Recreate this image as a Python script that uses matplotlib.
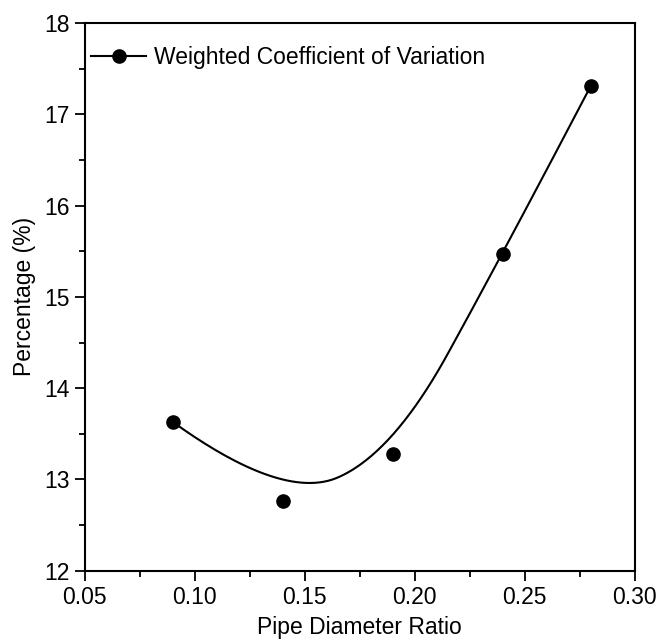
import matplotlib
matplotlib.use("Agg")
import matplotlib.pyplot as plt
import numpy as np
from matplotlib.ticker import MultipleLocator

plt.rcParams['font.family'] = ['Liberation Sans', 'DejaVu Sans']

# data
ratio = [0.09, 0.14, 0.19, 0.24, 0.28]
cv = [13.63, 12.76, 13.28, 15.47, 17.31]
series_name = "Weighted Coefficient of Variation"


# quadratic B-spline through the points as control points (Origin style)
def bspline2(px, py, n=60):
    px = np.asarray(px, float)
    py = np.asarray(py, float)
    # knots at midpoints, ends clamped
    mx = np.r_[px[0], (px[1:-2] + px[2:-1]) / 2, px[-1]]
    my = np.r_[py[0], (py[1:-2] + py[2:-1]) / 2, py[-1]]
    t = np.linspace(0, 1, n)
    xs, ys = [], []
    for i in range(len(mx) - 1):
        cx, cy = px[i + 1], py[i + 1]
        xs.append((1 - t) ** 2 * mx[i] + 2 * t * (1 - t) * cx + t ** 2 * mx[i + 1])
        ys.append((1 - t) ** 2 * my[i] + 2 * t * (1 - t) * cy + t ** 2 * my[i + 1])
    return np.concatenate(xs), np.concatenate(ys)


xs, ys = bspline2(ratio, cv)

fig = plt.figure(figsize=(6.57, 6.44), dpi=100)
ax = fig.add_axes([0.129, 0.114, 0.837, 0.850])

ax.plot(xs, ys, color="black", lw=1.5)
ax.plot(ratio, cv, "o", color="black", ms=9.5)
# legend proxy: line with dot
ax.plot([], [], "-o", color="black", lw=1.5, ms=9.5, label=series_name)

ax.set_xlim(0.05, 0.30)
ax.set_ylim(12, 18)
ax.xaxis.set_major_locator(MultipleLocator(0.05))
ax.xaxis.set_minor_locator(MultipleLocator(0.025))
ax.yaxis.set_major_locator(MultipleLocator(1))
ax.yaxis.set_minor_locator(MultipleLocator(0.5))
ax.xaxis.set_major_formatter(plt.FormatStrFormatter("%.2f"))
ax.tick_params(which="both", direction="out", top=False, right=False, width=1.3)
ax.tick_params(which="major", length=7, labelsize=16.5, pad=4)
ax.tick_params(which="minor", length=4)
for s in ax.spines.values():
    s.set_linewidth(1.5)

ax.set_xlabel("Pipe Diameter Ratio", fontsize=16.5, labelpad=5)
ax.set_ylabel("Percentage (%)", fontsize=16.5, labelpad=6)

ax.legend(loc="center left", bbox_to_anchor=(0.012, 0.938), frameon=False,
          fontsize=16.5, handlelength=2.4, handletextpad=0.35,
          borderpad=0, borderaxespad=0)

fig.savefig("out.png", dpi=100)
